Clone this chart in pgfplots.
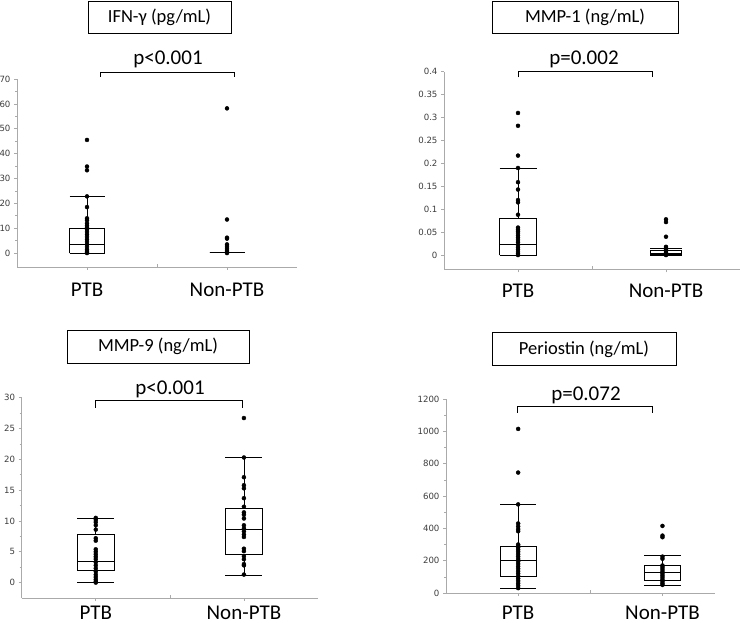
\documentclass[border=0pt]{standalone}
\usepackage{pgfplots}
\pgfplotsset{compat=1.18}
\usepackage{fontspec}
\setmainfont{Carlito}
\newfontfamily\tickfont{DejaVu Sans}
\definecolor{axgray}{RGB}{170,170,170}
\definecolor{ticktext}{RGB}{60,60,60}
\pgfplotsset{
  panel/.style={
    scale only axis,
    axis x line=bottom, axis y line=left,
    axis line style={-, draw=axgray, line width=0.8pt},
    xmin=-0.5, xmax=1.5,
    xtick={0,1}, xticklabels={PTB,Non-PTB},
    x tick label style={font=\fontsize{21}{21}\selectfont, text=black, inner sep=0pt, anchor=base},
    y tick label style={font=\fontsize{8.6}{9}\selectfont\tickfont, text=ticktext},
    extra x ticks={0.5}, extra x tick labels={},
    extra x tick style={tick align=inside, major tick length=3pt},
    /pgf/number format/assume math mode=true,
    /pgf/number format/1000 sep={},
    scaled y ticks=false,
    tick style={axgray, line width=0.6pt},
    major tick length=3pt, minor tick length=2pt,
    tick align=outside,
    clip=false,
  },
  bx/.style={black, line width=0.8pt, solid, mark=none, forget plot},
  pts/.style={only marks, mark=*, mark size=2pt, black},
}
% box: #1 position, #2 half width, #3 lower whisker, #4 Q1, #5 median, #6 Q3, #7 upper whisker
\newcommand{\mybox}[7]{%
  \addplot[bx] coordinates {(#1-#2,#4) (#1+#2,#4) (#1+#2,#6) (#1-#2,#6) (#1-#2,#4)};
  \addplot[bx] coordinates {(#1-#2,#5) (#1+#2,#5)};
  \addplot[bx] coordinates {(#1,#6) (#1,#7)};
  \addplot[bx] coordinates {(#1,#4) (#1,#3)};
  \addplot[bx] coordinates {(#1-#2,#7) (#1+#2,#7)};
  \addplot[bx] coordinates {(#1-#2,#3) (#1+#2,#3)};
}
\begin{document}
\begin{tikzpicture}
\useasboundingbox (0,0) rectangle (740pt,-623pt);

% ---------- Panel 1: IFN-gamma ----------
\begin{axis}[panel, at={(17pt,-267pt)}, anchor=south west,
  width=280pt, height=188pt, ymin=-5.6, ymax=70,
  ytick={0,10,...,70}, minor y tick num=1,
  x tick label style={yshift=-27pt}]
\mybox{0}{0.125}{0}{0}{3.5}{10}{22.7}
\mybox{1}{0.125}{0.3}{0.3}{0.3}{0.3}{0.3}
\addplot[pts] coordinates {(0,45.5)(0,34.8)(0,33.3)(0,22.8)(0,18.5)(0,14)(0,13.2)(0,12)(0,11)
  (0,10.3)(0,9.5)(0,8.5)(0,7.5)(0,6.5)(0,5.5)(0,4.5)(0,3.5)(0,2.5)(0,1.5)(0,0.8)(0,0.3)(0,0)};
\addplot[pts] coordinates {(1,58.2)(1,13.5)(1,6.2)(1,5.8)(1,3.5)(1,2.8)(1,2)(1,1.2)(1,0.5)(1,0)};
\end{axis}

% ---------- Panel 2: MMP-1 ----------
\begin{axis}[panel, at={(444pt,-269.3pt)}, anchor=south west,
  width=296pt, height=197.6pt, ymin=-0.031, ymax=0.4,
  ytick={0,0.05,0.1,0.15,0.2,0.25,0.3,0.35,0.4},
  y tick label style={/pgf/number format/fixed, /pgf/number format/precision=2},
  x tick label style={yshift=-25.7pt}]
\mybox{0}{0.125}{0}{0}{0.024}{0.08}{0.19}
\mybox{1}{0.105}{0}{0.001}{0.004}{0.01}{0.015}
\addplot[pts] coordinates {(0,0.31)(0,0.282)(0,0.217)(0,0.19)(0,0.159)(0,0.143)(0,0.12)(0,0.115)
  (0,0.088)(0,0.06)(0,0.056)(0,0.052)(0,0.048)(0,0.043)(0,0.038)(0,0.033)(0,0.028)(0,0.022)
  (0,0.017)(0,0.012)(0,0.007)(0,0.003)(0,0)};
\addplot[pts] coordinates {(1,0.078)(1,0.072)(1,0.04)(1,0.018)(1,0.015)(1,0.012)(1,0.009)
  (1,0.006)(1,0.003)(1,0.001)(1,0)};
\end{axis}

% ---------- Panel 3: MMP-9 ----------
\begin{axis}[panel, at={(21.7pt,-598pt)}, anchor=south west,
  width=296.3pt, height=200.3pt, ymin=-2.5, ymax=30,
  ytick={0,5,...,30}, minor y tick num=1,
  x tick label style={yshift=-18.8pt}]
\mybox{0}{0.125}{0}{1.9}{3.5}{7.8}{10.4}
\mybox{1}{0.125}{1.2}{4.5}{8.6}{12.0}{20.3}
\addplot[pts] coordinates {(0,10.5)(0,10.2)(0,9.8)(0,9.3)(0,8.6)(0,7.2)(0,6.8)(0,5.4)(0,5.0)
  (0,4.6)(0,4.2)(0,3.8)(0,3.3)(0,2.8)(0,2.3)(0,1.8)(0,1.3)(0,0.9)(0,0.5)(0,0.2)(0,0)};
\addplot[pts] coordinates {(1,26.7)(1,20.3)(1,17.1)(1,15.8)(1,15.3)(1,13.7)(1,12.3)(1,11.4)
  (1,11.0)(1,10.4)(1,9.3)(1,8.8)(1,8.3)(1,7.8)(1,7.4)(1,5.5)(1,5.1)(1,4.3)(1,3.8)(1,3.0)(1,2.8)(1,1.3)};
\end{axis}

% ---------- Panel 4: Periostin ----------
\begin{axis}[panel, at={(446pt,-593pt)}, anchor=south west,
  width=269pt, height=194pt, ymin=0, ymax=1200, xmax=1.364,
  ytick={0,200,400,600,800,1000,1200}, minor y tick num=1,
  x tick label style={yshift=-23.8pt}]
\mybox{0}{0.125}{30}{105}{200}{290}{548}
\mybox{1}{0.125}{45}{75}{130}{168}{230}
\addplot[pts] coordinates {(0,1015)(0,745)(0,548)(0,430)(0,412)(0,395)(0,382)(0,300)(0,290)
  (0,282)(0,268)(0,255)(0,240)(0,225)(0,210)(0,195)(0,180)(0,165)(0,150)(0,135)(0,120)(0,105)
  (0,90)(0,75)(0,60)(0,45)(0,30)};
\addplot[pts] coordinates {(1,415)(1,355)(1,345)(1,225)(1,212)(1,170)(1,160)(1,148)(1,135)
  (1,122)(1,110)(1,98)(1,85)(1,72)(1,60)(1,50)};
\end{axis}

% ---------- titles, brackets, p-values ----------
\tikzset{ttl/.style={draw, line width=0.8pt, inner sep=0pt, font=\fontsize{18.5}{19}\selectfont},
         pv/.style={anchor=base, font=\fontsize{21}{21}\selectfont}}
\node[ttl, minimum width=143pt, minimum height=32pt] at (159.5pt,-17pt) {IFN-γ (pg/mL)};
\node[ttl, minimum width=186pt, minimum height=32pt] at (585pt,-17pt) {MMP-1 (ng/mL)};
\node[ttl, minimum width=182pt, minimum height=33pt] at (158pt,-346.7pt) {MMP-9 (ng/mL)};
\node[ttl, minimum width=184pt, minimum height=33.4pt] at (584pt,-349pt) {Periostin (ng/mL)};

\draw[line width=0.8pt] (100pt,-77pt) -- (100pt,-72.5pt) -- (234pt,-72.5pt) -- (234pt,-77pt);
\draw[line width=0.8pt] (518.3pt,-77.3pt) -- (518.3pt,-71.7pt) -- (652.7pt,-71.7pt) -- (652.7pt,-77.3pt);
\draw[line width=0.8pt] (95pt,-407.7pt) -- (95pt,-400.7pt) -- (242.3pt,-400.7pt) -- (242.3pt,-407.7pt);
\draw[line width=0.8pt] (517.7pt,-412.7pt) -- (517.7pt,-406.7pt) -- (652pt,-406.7pt) -- (652pt,-412.7pt);

\node[pv] at (168pt,-65pt) {p<0.001};
\node[pv] at (584pt,-65pt) {p=0.002};
\node[pv] at (170pt,-394pt) {p<0.001};
\node[pv] at (586pt,-400pt) {p=0.072};
\end{tikzpicture}
\end{document}
